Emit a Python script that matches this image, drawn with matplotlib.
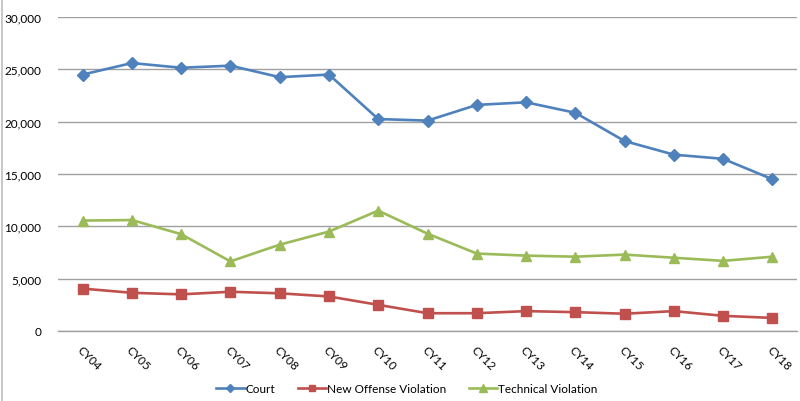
import matplotlib
matplotlib.use("Agg")
import matplotlib.pyplot as plt
from matplotlib.lines import Line2D

categories = ["CY04", "CY05", "CY06", "CY07", "CY08", "CY09", "CY10", "CY11",
              "CY12", "CY13", "CY14", "CY15", "CY16", "CY17", "CY18"]
court = [24500, 25600, 25150, 25350, 24250, 24500, 20250, 20100,
         21600, 21850, 20850, 18150, 16850, 16450, 14500]
new_offense = [4050, 3650, 3500, 3750, 3600, 3300, 2500, 1700,
               1700, 1900, 1800, 1650, 1900, 1450, 1250]
technical = [10550, 10600, 9250, 6650, 8250, 9500, 11500, 9300,
             7400, 7200, 7100, 7300, 7000, 6700, 7100]
y_ticks = [0, 5000, 10000, 15000, 20000, 25000, 30000]

plt.rcParams['font.family'] = ['Lato', 'DejaVu Sans']

fig = plt.figure(figsize=(8.0, 4.02), dpi=100)
ax = fig.add_axes([58/800, 1-332/402, (797-58)/800, (332-18)/402])

x = list(range(len(categories)))
blue, red, green = "#4F81BD", "#C0504D", "#9BBB59"
lw = 1.9
ax.plot(x, court, color=blue, lw=lw, marker="D", ms=6.5, label="Court", zorder=5)
ax.plot(x, new_offense, color=red, lw=lw, marker="s", ms=7, label="New Offense Violation", zorder=5)
ax.plot(x, technical, color=green, lw=lw, marker="^", ms=7.5, label="Technical Violation", zorder=5)

ax.set_xlim(-0.5, len(categories) - 0.5)
ax.set_ylim(0, 30000)
ax.set_yticks(y_ticks)
ax.set_yticklabels([f"{v:,}" for v in y_ticks])
ax.yaxis.grid(True, color="#A0A0A0", lw=1.0)
ax.set_axisbelow(True)
for s in ["left", "right", "top"]:
    ax.spines[s].set_visible(False)
ax.spines["bottom"].set_color("#A0A0A0")
ax.spines["bottom"].set_linewidth(1.0)
ax.tick_params(axis="both", length=0, labelsize=8.5, colors="#000000")
ax.tick_params(axis="y", pad=12)
ax.set_xticks(x)
ax.set_xticklabels(categories, rotation=-45, ha="left", va="top",
                   rotation_mode="anchor")
ax.tick_params(axis="x", pad=9)

handles = [Line2D([], [], color=blue, lw=lw, marker="D", ms=4.5),
           Line2D([], [], color=red, lw=lw, marker="s", ms=5),
           Line2D([], [], color=green, lw=lw, marker="^", ms=5.5)]
fig.legend(handles, ["Court", "New Offense Violation", "Technical Violation"],
           loc="center", bbox_to_anchor=(407/800, 1-390/402), ncol=3,
           frameon=False, fontsize=8.5, handlelength=2.4, handletextpad=0.1,
           columnspacing=1.9)

fig.add_artist(Line2D([1.5/800, 1.5/800], [0, 1], color="#BFBFBF", lw=1.2,
                      transform=fig.transFigure))

fig.savefig("out.png", dpi=100)
